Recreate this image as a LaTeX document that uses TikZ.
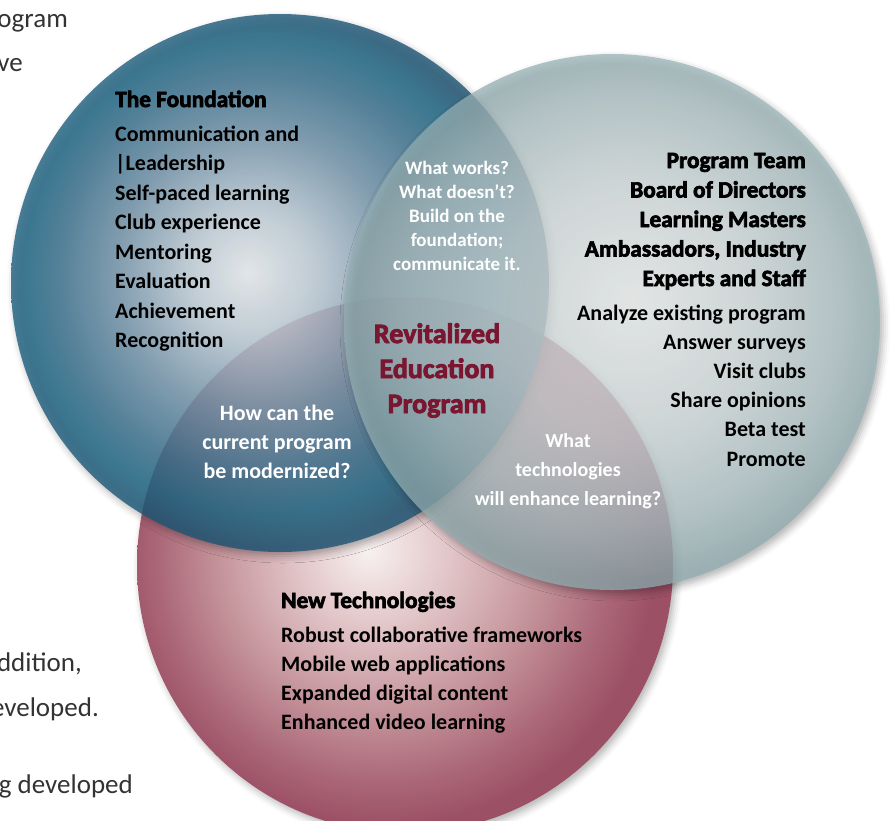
\documentclass[tikz,border=0pt]{standalone}
\usepackage{fontspec}
\setmainfont{Carlito}
\newfontfamily\heavyfont{Carlito}[FakeBold=3]
\usepackage{tikz}
\usetikzlibrary{shadows.blur}

\definecolor{coreRed}{HTML}{7A1630}
\definecolor{foundA}{HTML}{EEF2F5}
\definecolor{foundB}{HTML}{C2D1DC}
\definecolor{foundC}{HTML}{7597AE}
\definecolor{foundD}{HTML}{3A7391}
\definecolor{foundE}{HTML}{1F6988}
\definecolor{foundF}{HTML}{1D5474}
\definecolor{teamA}{HTML}{F2F5F5}
\definecolor{teamB}{HTML}{D6E0E1}
\definecolor{teamC}{HTML}{B3C7CA}
\definecolor{teamD}{HTML}{93AFB3}
\definecolor{techA}{HTML}{F8F1F1}
\definecolor{techB}{HTML}{E2C6C8}
\definecolor{techC}{HTML}{C4939A}
\definecolor{techD}{HTML}{AB6878}
\definecolor{techE}{HTML}{9C5066}

\pgfdeclareradialshading{foundball}{\pgfpoint{-3bp}{1bp}}{color(0bp)=(foundA); color(6bp)=(foundB); color(13bp)=(foundC); color(19bp)=(foundD); color(22bp)=(foundE); color(25bp)=(foundF); color(50bp)=(foundF)}
\pgfdeclareradialshading{teamball}{\pgfpoint{2bp}{2bp}}{color(0bp)=(teamA); color(12bp)=(teamB); color(20bp)=(teamC); color(25bp)=(teamD); color(50bp)=(teamD)}
\pgfdeclareradialshading{techball}{\pgfpoint{-3.5bp}{1.5bp}}{color(0bp)=(techA); color(7bp)=(techB); color(15bp)=(techC); color(21bp)=(techD); color(25bp)=(techE); color(50bp)=(techE)}

\begin{document}
\begin{tikzpicture}[x=1pt,y=-1pt,
  every node/.style={inner sep=0pt},
  listtxt/.style={font=\fontsize{22}{26}\selectfont\bfseries},
  headtxt/.style={font=\heavyfont\fontsize{23.3}{26}\selectfont\bfseries},
  asktxt/.style={text=white,font=\fontsize{20}{24}\selectfont\bfseries,anchor=base},
  coretxt/.style={text=coreRed,font=\heavyfont\fontsize{28}{32}\selectfont\bfseries,anchor=base},
  pagetxt/.style={text=black!80,font=\fontsize{27}{30}\selectfont,anchor=base east},
  ring/.style={blur shadow={shadow xshift=3pt,shadow yshift=-4pt,shadow blur radius=7pt,shadow opacity=30}}]
\useasboundingbox (0,0) rectangle (895,820);
\clip (0,0) rectangle (895,820);

\node[pagetxt] (page-1) at (68,27) {ogram};
\node[pagetxt] (page-2) at (23,71) {ve};
\node[pagetxt] (page-3) at (82,671) {ddition,};
\node[pagetxt] (page-4) at (99,716) {eveloped.};
\node[pagetxt] (page-5) at (133,793) {g developed};

\coordinate (foundc) at (280,283);
\coordinate (teamc) at (612,322);
\coordinate (techc) at (405,565);
\shade[shading=techball,ring] (techc) circle (268pt);
\shade[shading=foundball,fill opacity=.8,ring] (foundc) circle (269pt);
\shade[shading=teamball,fill opacity=.75,ring] (teamc) circle (268pt);

\node[headtxt,anchor=base west] (found-h) at (115,107) {The Foundation};
\foreach \t [count=\i] in {Communication and,|Leadership,Self-paced learning,Club experience,Mentoring,Evaluation,Achievement,Recognition}
  \node[listtxt,anchor=base west] (found-\i) at (115,{111.5+29.5*\i}) {\t};

\foreach \t [count=\i] in {Program Team,Board of Directors,Learning Masters,{Ambassadors, Industry},Experts and Staff}
  \node[headtxt,anchor=base east] (team-\i) at (806,{138.5+29.5*\i}) {\t};
\foreach \t [count=\i] in {Analyze existing program,Answer surveys,Visit clubs,Share opinions,Beta test,Promote}
  \node[listtxt,anchor=base east] (task-\i) at (806,{290.8+29.2*\i}) {\t};

\foreach \t [count=\i] in {What works?,What doesn’t?,Build on the,foundation;,communicate it.}
  \node[asktxt,font=\fontsize{19}{22}\selectfont\bfseries] (ask-top-\i) at (457,{150+24*\i}) {\t};
\foreach \t [count=\i] in {How can the,current program,be modernized?}
  \node[asktxt,font=\fontsize{22}{26}\selectfont\bfseries] (ask-left-\i) at (277,{391+29*\i}) {\t};
\foreach \t [count=\i] in {What,technologies,will enhance learning?}
  \node[asktxt] (ask-right-\i) at (568,{418+29*\i}) {\t};

\foreach \t [count=\i] in {Revitalized,Education,Program}
  \node[coretxt] (core-\i) at (437,{308+35*\i}) {\t};

\node[headtxt,anchor=base west] (tech-h) at (281,608) {New Technologies};
\foreach \t [count=\i] in {Robust collaborative frameworks,Mobile web applications,Expanded digital content,Enhanced video learning}
  \node[listtxt,anchor=base west] (tech-\i) at (281,{612.7+29.3*\i}) {\t};
\end{tikzpicture}
\end{document}
